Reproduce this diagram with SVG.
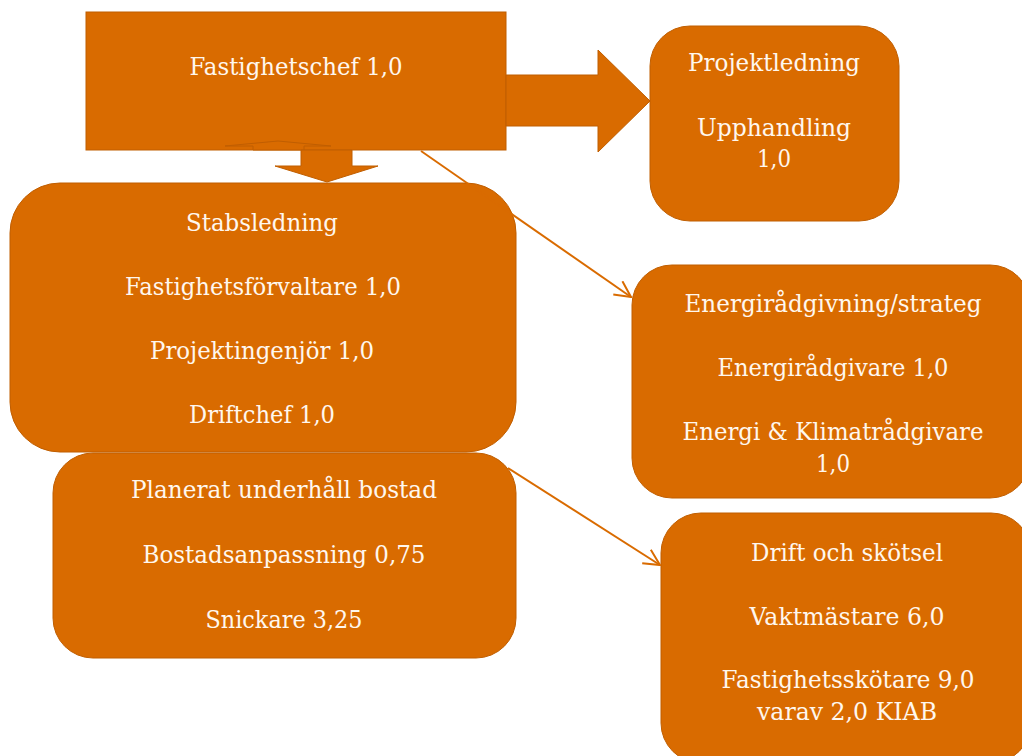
<svg xmlns="http://www.w3.org/2000/svg" width="1022" height="756" viewBox="0 0 1022 756">
<defs>
<style>
.box{fill:#D96B00;stroke:#C05E00;stroke-width:1}
.arw{fill:#D96B00;stroke:#C05E00;stroke-width:1}
.t{font-family:"DejaVu Serif","Liberation Serif",serif;font-size:24px;fill:#FFF7EE;text-anchor:middle}
.con{fill:none;stroke:#D96B00;stroke-width:2}
</style>
<marker id="open" markerWidth="18" markerHeight="18" refX="17" refY="9" orient="auto" markerUnits="userSpaceOnUse" viewBox="0 0 18 18">
<path d="M1,1 L17,9 L1,17" fill="none" stroke="#D96B00" stroke-width="2"/>
</marker>
</defs>
<rect width="1022" height="756" fill="#FFFFFF"/>
<g id="fastighetschef">
<rect class="box" x="86" y="12" width="420" height="138"/>
<text class="t" x="296" y="75" textLength="213" lengthAdjust="spacingAndGlyphs">Fastighetschef 1,0</text>
</g>
<g id="arrows">
<polygon class="arw" points="506,75 598,75 598,50 650,101 598,152 598,126 506,126"/>
<polygon class="arw" points="253,150 253,146 225,146 278,141 331,146 304,146 304,150" stroke="#B05500"/>
<polygon class="arw" points="301,150 352,150 352,166 378,166 327,182 275,166 301,166"/>
</g>
<g id="projektledning">
<rect class="box" x="650" y="26" width="249" height="195" rx="40" ry="40"/>
<text class="t" x="774" y="71" textLength="172" lengthAdjust="spacingAndGlyphs">Projektledning</text>
<text class="t" x="774" y="136" textLength="154" lengthAdjust="spacingAndGlyphs">Upphandling</text>
<text class="t" x="774" y="167" textLength="34" lengthAdjust="spacingAndGlyphs">1,0</text>
</g>
<g id="stabsledning">
<rect class="box" x="10" y="183" width="506" height="269" rx="50" ry="50"/>
<text class="t" x="262" y="231" textLength="152" lengthAdjust="spacingAndGlyphs">Stabsledning</text>
<text class="t" x="263" y="295" textLength="276" lengthAdjust="spacingAndGlyphs">Fastighetsförvaltare 1,0</text>
<text class="t" x="262" y="359" textLength="224" lengthAdjust="spacingAndGlyphs">Projektingenjör 1,0</text>
<text class="t" x="262" y="423" textLength="146" lengthAdjust="spacingAndGlyphs">Driftchef 1,0</text>
</g>
<g id="planerat">
<rect class="box" x="53" y="453" width="463" height="205" rx="40" ry="40"/>
<text class="t" x="284" y="498" textLength="306" lengthAdjust="spacingAndGlyphs">Planerat underhåll bostad</text>
<text class="t" x="284" y="563" textLength="283" lengthAdjust="spacingAndGlyphs">Bostadsanpassning 0,75</text>
<text class="t" x="284" y="628" textLength="157" lengthAdjust="spacingAndGlyphs">Snickare 3,25</text>
</g>
<g id="energi">
<rect class="box" x="632" y="265" width="398" height="233" rx="40" ry="40"/>
<text class="t" x="833" y="312" textLength="297" lengthAdjust="spacingAndGlyphs">Energirådgivning/strateg</text>
<text class="t" x="833" y="376" textLength="231" lengthAdjust="spacingAndGlyphs">Energirådgivare 1,0</text>
<text class="t" x="833" y="440" textLength="301" lengthAdjust="spacingAndGlyphs">Energi &amp; Klimatrådgivare</text>
<text class="t" x="833" y="472" textLength="34" lengthAdjust="spacingAndGlyphs">1,0</text>
</g>
<g id="drift">
<rect class="box" x="661" y="513" width="370" height="250" rx="40" ry="40"/>
<text class="t" x="847" y="561" textLength="192" lengthAdjust="spacingAndGlyphs">Drift och skötsel</text>
<text class="t" x="847" y="625" textLength="195" lengthAdjust="spacingAndGlyphs">Vaktmästare 6,0</text>
<text class="t" x="848" y="688" textLength="253" lengthAdjust="spacingAndGlyphs">Fastighetsskötare 9,0</text>
<text class="t" x="847" y="720" textLength="180" lengthAdjust="spacingAndGlyphs">varav 2,0 KIAB</text>
</g>
<g id="connectors">
<path class="con" d="M421,151 L631,297" marker-end="url(#open)"/>
<path class="con" d="M508,468 L660,565" marker-end="url(#open)"/>
</g>
</svg>
